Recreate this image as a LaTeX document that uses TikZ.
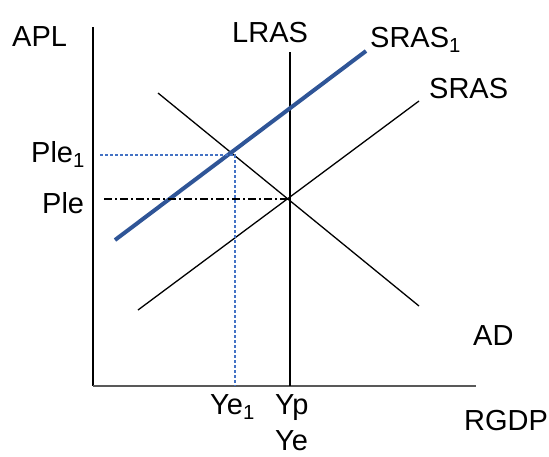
\documentclass[tikz,border=0pt]{standalone}
\usepackage{fontspec}
\setmainfont{Liberation Sans}
\usetikzlibrary{positioning}
\definecolor{CurveBlue}{RGB}{47,85,151}
\definecolor{GuideBlue}{RGB}{68,114,196}
\definecolor{AxisGrey}{RGB}{89,89,89}

\begin{document}
\begin{tikzpicture}[
    x=1pt, y=-1pt,
    every node/.style={font=\fontsize{29}{34}\selectfont, inner sep=0pt, anchor=base west},
    curve/.style={line width=1.3pt},
    shifted/.style={draw=CurveBlue, line width=4pt},
    guide/.style={draw=GuideBlue, line width=1.4pt, dash pattern=on 3pt off 2pt},
    level/.style={line width=1.2pt, dash pattern=on 8pt off 3pt on 2pt off 3pt}
]
\useasboundingbox (0,0) rectangle (549,456);

% axes
\coordinate (o) at (93,386);
\coordinate (ytop) at (93,27);
\coordinate (xend) at (476,386);
\draw[curve] (ytop) -- (o);
\draw[AxisGrey, line width=2pt] (o) -- (xend);

% curves
\coordinate (lras top) at (290,52);
\coordinate (lras foot) at (290,386);
\coordinate (sras1 lo) at (115,240);
\coordinate (sras1 hi) at (366,51);
\coordinate (sras lo) at (138,310);
\coordinate (sras hi) at (419,101);
\coordinate (ad hi) at (158,93);
\coordinate (ad lo) at (419,306);
\draw[curve] (lras top) -- (lras foot);
\draw[curve] (sras lo) -- (sras hi);
\draw[curve] (ad hi) -- (ad lo);
\draw[shifted] (sras1 lo) -- (sras1 hi);

% equilibrium guides
\coordinate (e) at (290,199);
\coordinate (e1) at (235,155);
\coordinate (ple start) at (104,199);
\coordinate (ple1 start) at (100,155);
\coordinate (ye1 foot) at (235,386);
\draw[level] (ple start) -- (e);
\draw[guide] (ple1 start) -- (e1) -- (ye1 foot);

% labels
\node (apl) at (12,46) {APL};
\node (lras) at (232,42) {LRAS};
\node (sras1) at (370,47) {SRAS\textsubscript{1}};
\node (sras) at (429,98) {SRAS};
\node (ad) at (473,345) {AD};
\node (rgdp) at (464,430) {RGDP};
\node (ple1) at (31,162) {Ple\textsubscript{1}};
\node (ple) at (42,213) {Ple};
\node (ye1) at (210,414) {Ye\textsubscript{1}};
\node (yp) at (275,414) {Yp};
\node (ye) at (275,450) {Ye};
\end{tikzpicture}
\end{document}
